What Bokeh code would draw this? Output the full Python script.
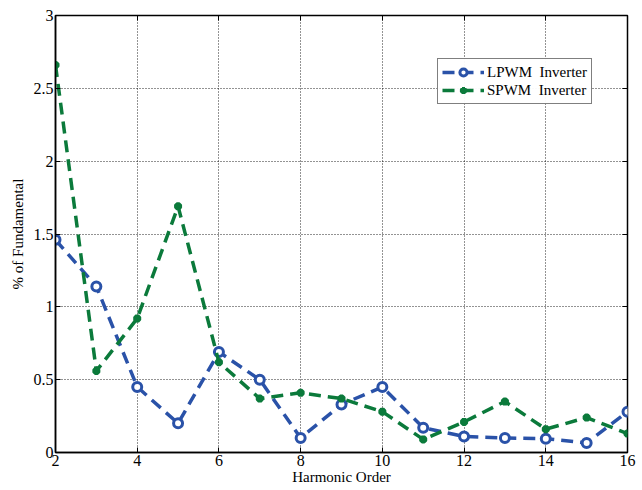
from bokeh.plotting import figure
from bokeh.models import LinearAxis, Range1d, Legend, LegendItem, FixedTicker
from bokeh.embed import file_html
from bokeh.resources import INLINE

harmonic = [2, 3, 4, 5, 6, 7, 8, 9, 10, 11, 12, 13, 14, 15, 16]
lpwm = [1.46, 1.14, 0.45, 0.20, 0.69, 0.50, 0.10, 0.33, 0.45, 0.17, 0.11, 0.10, 0.095, 0.065, 0.28]
spwm = [2.66, 0.56, 0.92, 1.69, 0.62, 0.37, 0.41, 0.37, 0.28, 0.09, 0.21, 0.35, 0.16, 0.24, 0.13]
x_ticks = [2, 4, 6, 8, 10, 12, 14, 16]
y_ticks = [0, 0.5, 1, 1.5, 2, 2.5, 3]

FONT = "Liberation Serif"
BLUE = "#2a52a8"
GREEN = "#0b7a3b"

p = figure(frame_width=572, frame_height=437, output_backend="svg", toolbar_location=None,
           x_range=Range1d(2, 16), y_range=Range1d(0, 3),
           min_border_left=55, min_border_right=15, min_border_top=15, min_border_bottom=38)
p.background_fill_color = "white"
p.border_fill_color = "white"
p.outline_line_color = "black"
p.outline_line_width = 1.5

for ax in (p.xaxis[0], p.yaxis[0]):
    ax.major_label_text_font = FONT
    ax.major_label_text_font_size = "16px"
    ax.major_label_text_color = "black"
    ax.axis_label_text_font = FONT
    ax.axis_label_text_font_size = "15px"
    ax.axis_label_text_font_style = "normal"
    ax.axis_label_text_color = "black"
    ax.major_tick_in = 5
    ax.major_tick_out = 0
    ax.minor_tick_line_color = None
    ax.axis_line_color = "black"
    ax.axis_line_width = 1.5
    ax.major_label_standoff = 2

p.xaxis.ticker = FixedTicker(ticks=x_ticks)
p.yaxis.ticker = FixedTicker(ticks=y_ticks)
p.xaxis.axis_label = "Harmonic Order"
p.yaxis.axis_label = "% of Fundamental"
p.xaxis.axis_label_standoff = 0
p.yaxis.axis_label_standoff = 5

p.xgrid.ticker = FixedTicker(ticks=x_ticks)
p.ygrid.ticker = FixedTicker(ticks=y_ticks)
p.grid.grid_line_color = "black"
p.grid.grid_line_dash = "1 2"
p.grid.grid_line_width = 1
p.grid.grid_line_alpha = 0.85

for loc, ticks in (("right", y_ticks), ("above", x_ticks)):
    ax = LinearAxis(ticker=FixedTicker(ticks=ticks),
                    major_label_overrides={t: "" for t in ticks},
                    major_tick_in=5, major_tick_out=0,
                    minor_tick_line_color=None, axis_line_color=None, major_label_standoff=0)
    p.add_layout(ax, loc)

l1 = p.line(harmonic, lpwm, line_color=BLUE, line_width=3.5, line_dash="12 7")
m1 = p.scatter(harmonic, lpwm, marker="circle", size=9, line_color=BLUE, line_width=3, fill_color="white")
l2 = p.line(harmonic, spwm, line_color=GREEN, line_width=3.5, line_dash="12 7")
m2 = p.scatter(harmonic, spwm, marker="asterisk", size=8, line_color=GREEN, line_width=3)

legend = Legend(items=[LegendItem(label="LPWM  Inverter", renderers=[l1, m1]),
                       LegendItem(label="SPWM  Inverter", renderers=[l2, m2])],
                location=(382, 348))
legend.label_text_font = FONT
legend.label_text_font_size = "15px"
legend.label_text_color = "black"
legend.border_line_color = "black"
legend.border_line_width = 1.5
legend.glyph_width = 42
legend.label_standoff = 3
legend.padding = 4
legend.spacing = 0
legend.margin = 0
legend.label_height = 18
legend.glyph_height = 18
p.add_layout(legend)

open("out.html", "w").write(file_html(p, INLINE))
